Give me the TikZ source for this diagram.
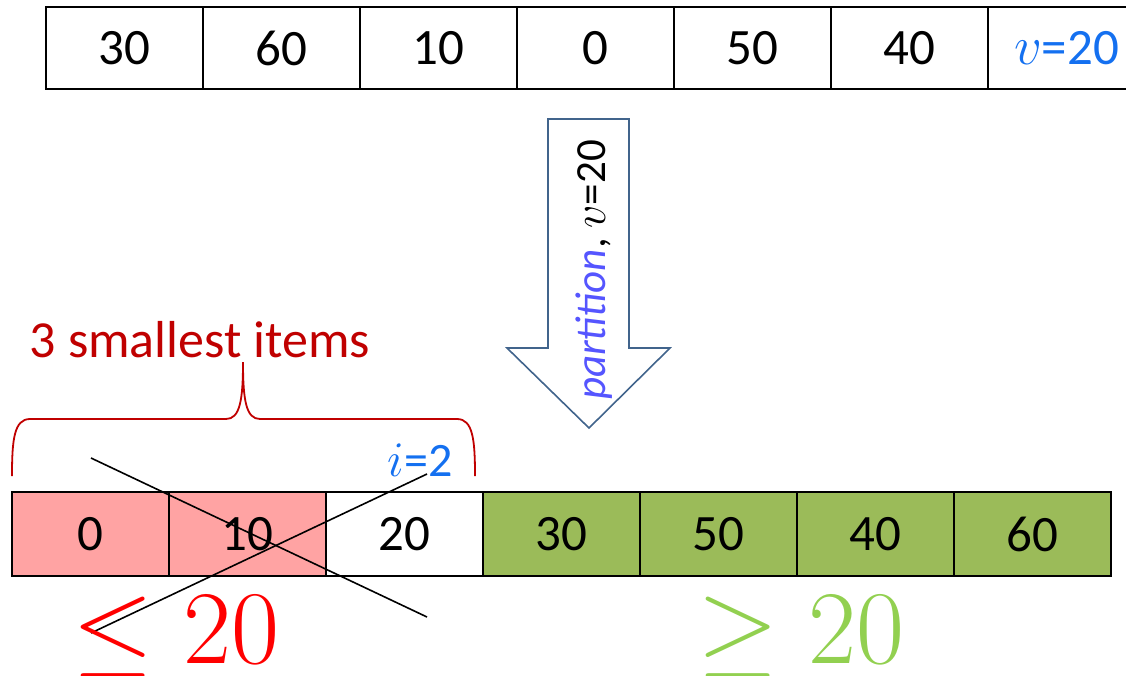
\documentclass[tikz,border=0pt]{standalone}
\usepackage{fontspec}
\setmainfont{Carlito}
\definecolor{lowfill}{RGB}{255,163,163}
\definecolor{highfill}{RGB}{155,187,89}
\definecolor{bracered}{RGB}{192,0,0}
\definecolor{pivotblue}{RGB}{20,112,240}
\definecolor{arrowedge}{RGB}{65,100,140}
\definecolor{partviolet}{RGB}{85,85,255}
\definecolor{geqgreen}{RGB}{146,208,80}
% math set at \Huge and scaled up to the wanted size
\newcommand{\scaledmath}[2]{\scalebox{#1}{\Huge$#2$}}
\begin{document}
\begin{tikzpicture}[x=1pt,y=-1pt,
  cell/.style={draw, line width=2pt, minimum width=157pt, inner sep=0pt,
               font=\fontsize{51}{60}\selectfont},
  toprow/.style={cell, minimum height=82pt},
  botrow/.style={cell, minimum height=84pt},
  low/.style={botrow, fill=lowfill},
  high/.style={botrow, fill=highfill},
  crossline/.style={line width=1.6pt, black},
  bigsign/.style={inner sep=0pt, anchor=base}]
\useasboundingbox (0,0) rectangle (1126,675);

% input array, pivot in the last slot
\node[toprow] (t1) at (124.5,48) {30};
\node[toprow] (t2) at (281.5,48) {60};
\node[toprow] (t3) at (438.5,48) {10};
\node[toprow] (t4) at (595.5,48) {0};
\node[toprow] (t5) at (752.5,48) {50};
\node[toprow] (t6) at (909.5,48) {40};
\node[toprow, text=pivotblue] (t7) at (1066.5,48) {\scaledmath{2.2}{v}=20};

% block arrow for the partition step
\draw[arrowedge, line width=1.6pt, fill=white, line join=miter]
  (548,119) -- (629,119) -- (629,348) -- (670,348) -- (589,428)
  -- (507,348) -- (548,348) -- cycle;
\node[rotate=90, inner sep=0pt, font=\fontsize{43}{50}\selectfont] (lbl) at (594,270)
  {{\itshape\color{partviolet}partition}, \scaledmath{1.85}{v}=20};

% partitioned array
\node[low]  (b1) at (90.5,534)  {0};
\node[low]  (b2) at (247.5,534) {10};
\node[botrow] (b3) at (404.5,534) {20};
\node[high] (b4) at (561.5,534) {30};
\node[high] (b5) at (718.5,534) {50};
\node[high] (b6) at (875.5,534) {40};
\node[high] (b7) at (1032.5,534) {60};

% brace over the three smallest items
\draw[bracered, line width=1.8pt]
  (12,476) .. controls (12,440) and (14,419) .. (30,419) -- (226,419)
  .. controls (240,419) and (243,400) .. (243,362)
  .. controls (243,400) and (246,419) .. (260,419) -- (457,419)
  .. controls (473,419) and (475,440) .. (475,476);
\node[text=bracered, anchor=base, inner sep=0pt,
      font=\fontsize{52}{60}\selectfont] (cap) at (200,357) {3 smallest items};

\node[text=pivotblue, anchor=base, inner sep=0pt,
      font=\fontsize{48}{56}\selectfont] (idx) at (420,476) {\scaledmath{2.0}{i}=2};

% crossing strokes
\coordinate (c1a) at (91,458);
\coordinate (c1b) at (427,617);
\coordinate (c2a) at (427,474);
\coordinate (c2b) at (91,633);
\draw[crossline] (c1a) -- (c1b);
\draw[crossline] (c2a) -- (c2b);

% bound labels
\node[bigsign, text=red] (le) at (176,663) {\scaledmath{4.2}{\leq\mkern0mu 20}};
\node[bigsign, text=geqgreen] (ge) at (801,663) {\scaledmath{4.2}{\geq\mkern0mu 20}};
\end{tikzpicture}
\end{document}
